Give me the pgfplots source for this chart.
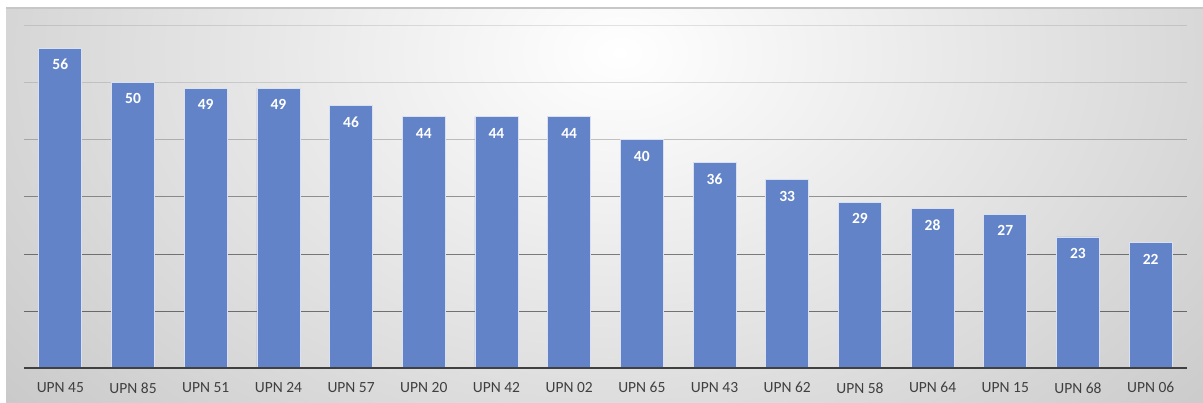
\documentclass[border=0pt]{standalone}
\usepackage{pgfplots}
\pgfplotsset{compat=1.18}
\usepackage{fontspec}
\setmainfont{Carlito}

\definecolor{barblue}{HTML}{6283C7}
\definecolor{labelgrey}{HTML}{404040}
\definecolor{bginner}{HTML}{FFFFFF}
\definecolor{bgouter}{HTML}{A8A8A8}

\newcommand\ticksize{\fontsize{15.5}{18}\selectfont}
\newcommand\valsize{\fontsize{15.5}{18}\selectfont\bfseries}

\begin{document}
\begin{tikzpicture}
  \useasboundingbox (0pt,0pt) rectangle (1203pt,403pt);
  \fill[white] (0pt,0pt) rectangle (1203pt,403pt);
  % grey panel with a light centre
  \begin{scope}
    \clip (6pt,0pt) rectangle (1203pt,395pt);
    \fill[bgouter] (6pt,0pt) rectangle (1203pt,395pt);
    \shade[inner color=bginner, outer color=bgouter]
      (620pt,350pt) ellipse [x radius=1300pt, y radius=900pt];
  \end{scope}
  \draw[black!22, line width=1.4pt] (6pt,395pt) -- (1203pt,395pt);

  \begin{axis}[
    at={(24pt,34.5pt)}, anchor=south west,
    scale only axis,
    width=1163pt, height=360.4pt,
    xmin=-0.5, xmax=15.5,
    ymin=0, ymax=63,
    ybar, bar width=43pt,
    separate axis lines,
    axis x line*=bottom,
    axis y line*=left,
    x axis line style={draw=none},
    y axis line style={draw=none},
    xtick=data,
    xticklabels={UPN 45,UPN 85,UPN 51,UPN 24,UPN 57,UPN 20,UPN 42,UPN 02,UPN 65,UPN 43,UPN 62,UPN 58,UPN 64,UPN 15,UPN 68,UPN 06},
    major tick length=0pt,
    xticklabel style={text=labelgrey, font=\ticksize, yshift=-10.5pt},
    ytick=\empty,
    nodes near coords,
    /pgf/number format/assume math mode=true,
    nodes near coords style={anchor=north, yshift=-7.5pt, text=white,
      font=\valsize},
    clip=false,
  ]
    % horizontal guide lines, fainter towards the top
    \draw[black, opacity=0.50, line width=1.1pt] (axis cs:-0.5,10) -- (axis cs:15.5,10);
    \draw[black, opacity=0.48, line width=1.1pt] (axis cs:-0.5,20) -- (axis cs:15.5,20);
    \draw[black, opacity=0.38, line width=1.1pt] (axis cs:-0.5,30) -- (axis cs:15.5,30);
    \draw[black, opacity=0.22, line width=1.1pt] (axis cs:-0.5,40) -- (axis cs:15.5,40);
    \draw[black, opacity=0.12, line width=1.1pt] (axis cs:-0.5,50) -- (axis cs:15.5,50);
    \draw[black, opacity=0.10, line width=1.1pt] (axis cs:-0.5,60) -- (axis cs:15.5,60);

    \addplot[fill=barblue, draw=white!75!barblue, line width=0.8pt] coordinates {
      (0,56) (1,50) (2,49) (3,49) (4,46) (5,44) (6,44) (7,44)
      (8,40) (9,36) (10,33) (11,29) (12,28) (13,27) (14,23) (15,22)
    };

    % category axis baseline
    \draw[labelgrey, line width=2pt] (axis cs:-0.5,0) -- (axis cs:15.5,0);
  \end{axis}
\end{tikzpicture}
\end{document}
